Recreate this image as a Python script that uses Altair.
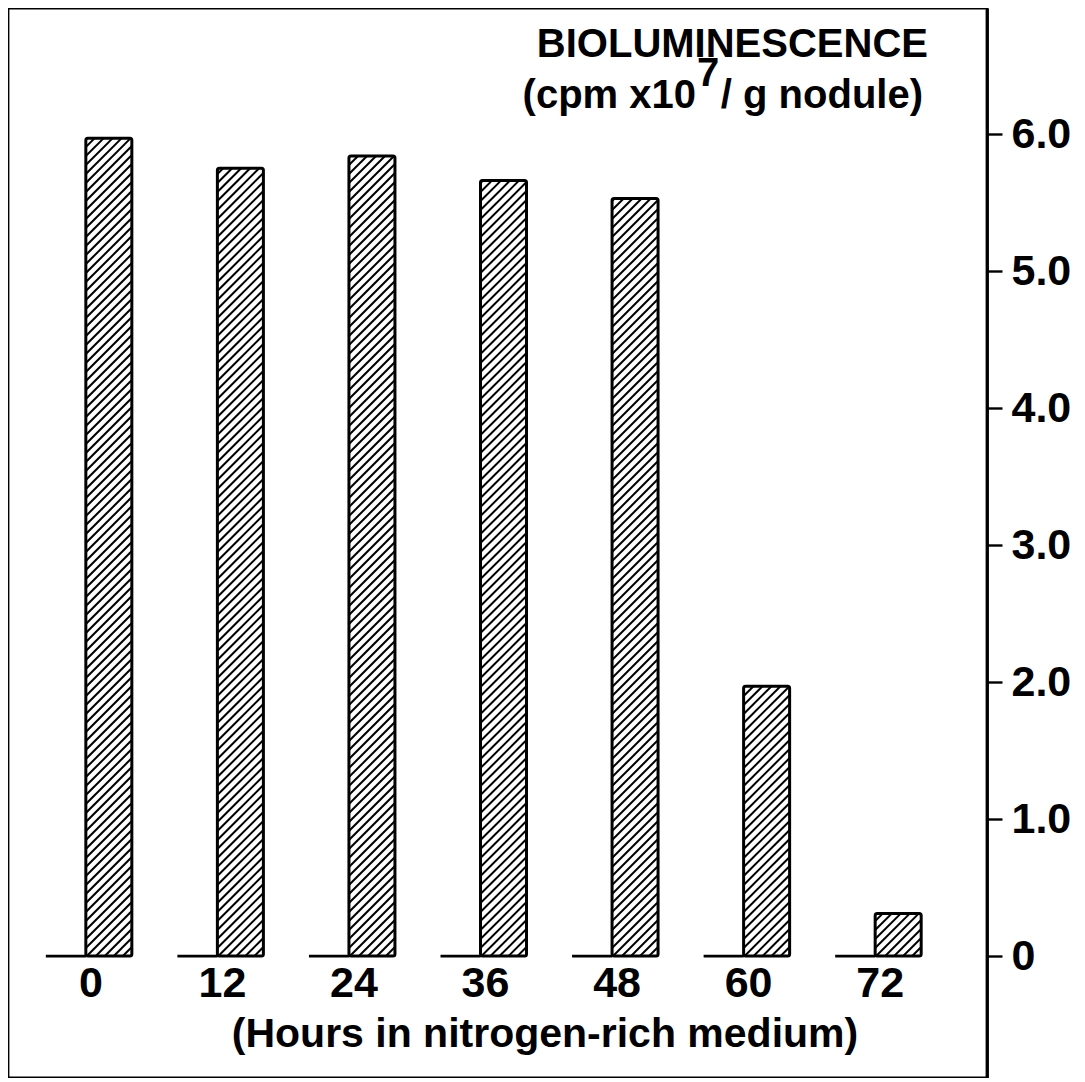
import altair as alt
import pandas as pd

# ---- data ----
hours = [0, 12, 24, 36, 48, 60, 72]
values = [5.97, 5.75, 5.84, 5.66, 5.53, 1.97, 0.31]
y_tick_values = [0, 1, 2, 3, 4, 5, 6]
x_title = "(Hours in nitrogen-rich medium)"
title_line1 = "BIOLUMINESCENCE"
title_line2a = "(cpm x10"
title_sup = "7"
title_line2b = "/ g nodule)"

# ---- layout constants ----
W, H = 979, 1070
X_DOMAIN = [-7.1, 82.2]
Y_DOMAIN = [-0.89, 6.92]
PX_PER_HOUR = W / (X_DOMAIN[1] - X_DOMAIN[0])
PX_PER_UNIT = H / (Y_DOMAIN[1] - Y_DOMAIN[0])
BAR_PX = 46
LEAD_PX = 40
HATCH_STEP = 9
FONT = "Liberation Sans"
FS = 40
FS_TICK = 43

bars = pd.DataFrame({"hour": hours, "value": values})
bars["hour_end"] = bars["hour"] + BAR_PX / PX_PER_HOUR
bars["lead_start"] = bars["hour"] - LEAD_PX / PX_PER_HOUR
bars["zero"] = 0.0
bars["label"] = bars["hour"].astype(str)

# hatch segments derived from bar geometry (45 degree lines)
rows = []
for h, v in zip(hours, values):
    Hp = v * PX_PER_UNIT
    c = -BAR_PX
    while c < Hp:
        xs = max(0.0, -c)
        xe = min(float(BAR_PX), Hp - c)
        if xe > xs + 0.5:
            rows.append({
                "hx": h + xs / PX_PER_HOUR,
                "hx2": h + xe / PX_PER_HOUR,
                "hy": (c + xs) / PX_PER_UNIT,
                "hy2": (c + xe) / PX_PER_UNIT,
            })
        c += HATCH_STEP
hatch = pd.DataFrame(rows)

xs = alt.Scale(domain=X_DOMAIN, nice=False, zero=False)
ys = alt.Scale(domain=Y_DOMAIN, nice=False, zero=False)

base = alt.Chart(bars)

hatch_layer = alt.Chart(hatch).mark_rule(color="black", strokeWidth=2).encode(
    x=alt.X("hx:Q", scale=xs, axis=None),
    x2="hx2:Q",
    y=alt.Y("hy:Q", scale=ys),
    y2="hy2:Q",
)

bar_layer = base.mark_rect(fill="transparent", stroke="black", strokeWidth=3,
                           cornerRadius=2).encode(
    x=alt.X("hour:Q", scale=xs, axis=None),
    x2="hour_end:Q",
    y=alt.Y("value:Q", scale=ys,
            axis=alt.Axis(orient="right", values=y_tick_values, grid=False,
                          title=None, domainColor="black", domainWidth=2.8,
                          tickColor="black", tickWidth=2.4, tickSize=15,
                          labelFont=FONT, labelFontSize=FS_TICK, labelFontWeight="bold",
                          labelColor="black", labelPadding=9,
                          labelExpr="datum.value == 0 ? '0' : format(datum.value, '.1f')")),
    y2="zero:Q",
)

lead_layer = base.mark_rule(color="black", strokeWidth=2.8).encode(
    x=alt.X("lead_start:Q", scale=xs, axis=None),
    x2="hour:Q",
    y=alt.Y("zero:Q", scale=ys),
)

label_layer = base.mark_text(font=FONT, fontSize=FS_TICK, fontWeight="bold", color="black",
                             align="center", baseline="middle", dx=5).encode(
    x=alt.X("hour:Q", scale=xs, axis=None),
    y=alt.value(976),
    text="label:N",
)

def txt(s, x, y, align="left", size=FS):
    return alt.Chart(pd.DataFrame({"t": [s]})).mark_text(
        font=FONT, fontSize=size, fontWeight="bold", color="black", align=align,
        baseline="middle"
    ).encode(x=alt.value(x), y=alt.value(y), text="t:N")

title_layers = [
    txt(title_line1, 920, 37, align="right"),
    txt(title_line2a, 688, 88, align="right"),
    txt(title_sup, 689, 66, align="left"),
    txt(title_line2b, 915, 88, align="right"),
    txt(x_title, 537, 1027, align="center", size=41),
]

chart = alt.layer(hatch_layer, bar_layer, lead_layer, label_layer, *title_layers).properties(
    width=W, height=H, padding={"left": 0, "top": 0, "right": 0, "bottom": 0}
).configure_view(stroke="black", strokeWidth=2.8)

chart.save("out.html", embed_options={"renderer": "svg", "actions": False})
